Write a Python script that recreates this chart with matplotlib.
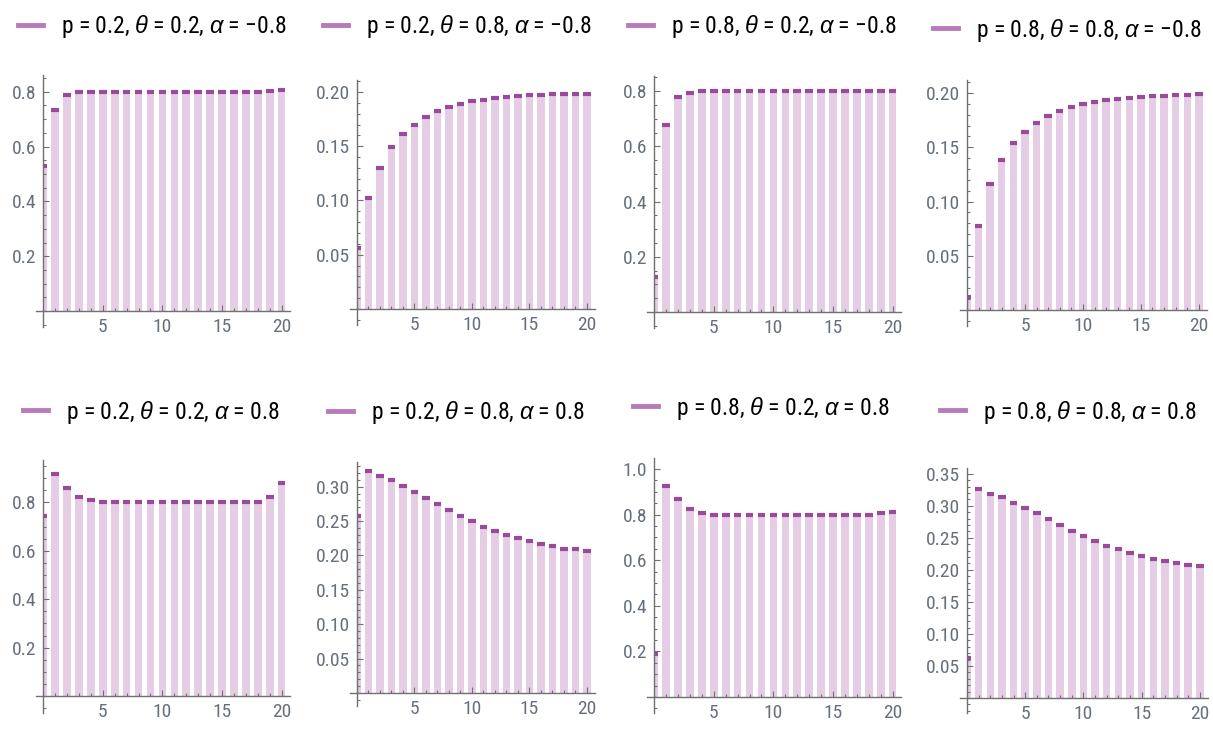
import numpy as np
import matplotlib
matplotlib.use("Agg")
import matplotlib.pyplot as plt
from matplotlib import font_manager
from matplotlib.lines import Line2D
from matplotlib.ticker import MultipleLocator, FixedLocator, FormatStrFormatter

# look for a narrow / condensed sans, else plain Liberation Sans a bit smaller
narrow = ("condensed", "semi-condensed", "extra-condensed", "ultra-condensed")
cands = [f for f in font_manager.fontManager.ttflist
         if f.style == "normal" and (str(f.stretch) in narrow
                                     or "Narrow" in f.name or "Condensed" in f.name)]
pref = ["Liberation Sans Narrow", "Roboto Condensed", "Open Sans Condensed", "Noto Sans",
        "Roboto", "Open Sans", "Inter", "Lato", "DejaVu Sans"]
cands.sort(key=lambda f: pref.index(f.name) if f.name in pref else 99)
if cands:
    FONT = cands[0].name
    if str(cands[0].stretch) in narrow:
        plt.rcParams["font.stretch"] = cands[0].stretch
    LEG_SIZE, TICK_SIZE = 17, 14
else:
    FONT = "Liberation Sans"
    LEG_SIZE, TICK_SIZE = 15, 13
plt.rcParams["font.family"] = [FONT, "DejaVu Sans"]
plt.rcParams["mathtext.fontset"] = "custom"
plt.rcParams["mathtext.rm"] = FONT
# greek letters: Liberation Sans italic has a proper alpha
plt.rcParams["mathtext.it"] = "Liberation Sans:italic"

# data
x = np.arange(21)

labels = [
    "p = 0.2, $\\theta$ = 0.2, $\\alpha$ = \u22120.8",
    "p = 0.2, $\\theta$ = 0.8, $\\alpha$ = \u22120.8",
    "p = 0.8, $\\theta$ = 0.2, $\\alpha$ = \u22120.8",
    "p = 0.8, $\\theta$ = 0.8, $\\alpha$ = \u22120.8",
    "p = 0.2, $\\theta$ = 0.2, $\\alpha$ = 0.8",
    "p = 0.2, $\\theta$ = 0.8, $\\alpha$ = 0.8",
    "p = 0.8, $\\theta$ = 0.2, $\\alpha$ = 0.8",
    "p = 0.8, $\\theta$ = 0.8, $\\alpha$ = 0.8",
]

v1 = [0.530, 0.733, 0.788, 0.798, 0.800, 0.800, 0.800, 0.800, 0.800, 0.800, 0.800,
      0.800, 0.800, 0.800, 0.800, 0.800, 0.800, 0.800, 0.800, 0.801, 0.805]
v2 = [0.056, 0.102, 0.130, 0.149, 0.161, 0.170, 0.177, 0.182, 0.1865, 0.189, 0.1917,
      0.1926, 0.1942, 0.195, 0.1963, 0.197, 0.1972, 0.1978, 0.1978, 0.1982, 0.1985]
v3 = [0.125, 0.676, 0.780, 0.793, 0.800, 0.800, 0.800, 0.800, 0.800, 0.800, 0.800,
      0.800, 0.800, 0.800, 0.800, 0.800, 0.800, 0.800, 0.800, 0.800, 0.801]
v4 = [0.012, 0.0774, 0.1158, 0.138, 0.154, 0.164, 0.1726, 0.179, 0.1834, 0.187, 0.1896,
      0.192, 0.1933, 0.1947, 0.195, 0.1966, 0.1972, 0.1972, 0.198, 0.1985, 0.199]
v5 = [0.745, 0.917, 0.858, 0.821, 0.810, 0.803, 0.803, 0.800, 0.800, 0.800, 0.800,
      0.800, 0.800, 0.800, 0.800, 0.800, 0.803, 0.803, 0.803, 0.821, 0.880]
v6 = [0.258, 0.3235, 0.316, 0.310, 0.301, 0.292, 0.284, 0.275, 0.266, 0.258, 0.250,
      0.242, 0.236, 0.2305, 0.2247, 0.221, 0.216, 0.214, 0.210, 0.209, 0.2066]
v7 = [0.187, 0.927, 0.868, 0.823, 0.805, 0.800, 0.800, 0.800, 0.800, 0.800, 0.800,
      0.800, 0.800, 0.800, 0.800, 0.800, 0.800, 0.800, 0.800, 0.805, 0.813]
v8 = [0.063, 0.326, 0.319, 0.313, 0.305, 0.296, 0.288, 0.280, 0.270, 0.261, 0.2526,
      0.245, 0.2375, 0.232, 0.227, 0.221, 0.2167, 0.214, 0.211, 0.208, 0.206]
values = [v1, v2, v3, v4, v5, v6, v7, v8]

# layout (pixels: left, top, right, bottom), y limits, y ticks
W, H = 1213, 730
rects = [(36, 75, 290, 327), (350, 80, 595, 325), (647, 76, 901, 328), (960, 80, 1207, 326),
         (36, 460, 290, 713), (350, 462, 595, 706), (647, 458, 901, 713), (960, 468, 1208, 713)]
ylims = [(-0.058, 0.861), (-0.0147, 0.211), (-0.058, 0.855), (-0.0147, 0.212),
         (-0.07, 0.975), (-0.019, 0.336), (-0.07, 1.048), (-0.0234, 0.359)]
yticks = [[0.2, 0.4, 0.6, 0.8], [0.05, 0.10, 0.15, 0.20], [0.2, 0.4, 0.6, 0.8],
          [0.05, 0.10, 0.15, 0.20], [0.2, 0.4, 0.6, 0.8],
          [0.05, 0.10, 0.15, 0.20, 0.25, 0.30], [0.2, 0.4, 0.6, 0.8, 1.0],
          [0.05, 0.10, 0.15, 0.20, 0.25, 0.30, 0.35]]
legend_pos = [(18, 27), (323, 27), (628, 27), (933, 30),
              (23, 412), (328, 413), (633, 408), (940, 412)]

BAR = "#e6cde6"
CAP = "#9a4a9a"
LEG = "#b77bb7"
AX = "#707070"
TXT = "#66707c"
bw = 0.64

fig = plt.figure(figsize=(W / 100, H / 100), dpi=100)

for i in range(8):
    l, t, r, b = rects[i]
    ax = fig.add_axes([l / W, 1 - b / H, (r - l) / W, (b - t) / H])
    vals = np.array(values[i])
    lefts = np.maximum(x - bw / 2, 0)
    rights = x + bw / 2
    ax.bar(lefts, vals, width=rights - lefts, align="edge", color=BAR, lw=0)
    ax.hlines(vals, lefts, rights, color=CAP, lw=3)

    ax.set_xlim(-0.6, 20.7)
    ax.set_ylim(*ylims[i])
    for s in ["top", "right"]:
        ax.spines[s].set_visible(False)
    ax.spines["left"].set_position(("data", 0))
    ax.spines["bottom"].set_position(("data", 0))
    for s in ["left", "bottom"]:
        ax.spines[s].set_color(AX)
        ax.spines[s].set_linewidth(1)

    ax.xaxis.set_major_locator(FixedLocator([5, 10, 15, 20]))
    ax.xaxis.set_minor_locator(MultipleLocator(1))
    ax.yaxis.set_major_locator(FixedLocator(yticks[i]))
    step = yticks[i][1] - yticks[i][0]
    ax.yaxis.set_minor_locator(MultipleLocator(0.05 if step > 0.1 else 0.01))
    ax.yaxis.set_major_formatter(FormatStrFormatter("%.1f" if step > 0.1 else "%.2f"))
    ax.tick_params(which="both", direction="in", color=AX, width=0.8,
                   labelsize=TICK_SIZE, labelcolor=TXT)
    ax.tick_params(which="major", length=4, pad=5)
    ax.tick_params(which="minor", length=2.2)

    lx, ly = legend_pos[i]
    h = Line2D([], [], color=LEG, lw=3.5)
    ax.legend([h], [labels[i]], loc="center left",
              bbox_to_anchor=(lx / W, 1 - ly / H), bbox_transform=fig.transFigure,
              frameon=False, fontsize=LEG_SIZE, borderpad=0, borderaxespad=0,
              handlelength=25 / (LEG_SIZE * 100 / 72), handletextpad=18 / (LEG_SIZE * 100 / 72))

fig.savefig("out.png", dpi=100)
